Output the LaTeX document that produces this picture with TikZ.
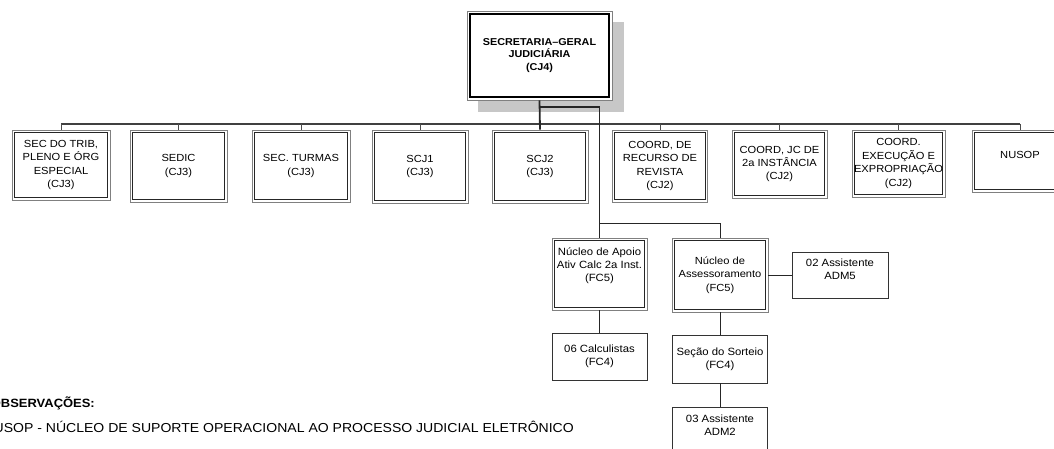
\documentclass[tikz,border=0pt]{standalone}
\usepackage{fontspec}
\setmainfont{Liberation Sans}[FakeStretch=1.08]
\tikzset{
  dbox/.style={draw=black!50, line width=0.7pt, fill=white, inner sep=0pt, align=center,
    font=\fontsize{10.3}{13.4}\selectfont,
    path picture={\draw[line width=1.3pt, black!85]
      ([shift={(2.3pt,2.3pt)}]path picture bounding box.south west) rectangle
      ([shift={(-2.3pt,-2.3pt)}]path picture bounding box.north east);}},
  sbox/.style={draw=black!80, line width=0.8pt, fill=white, inner sep=0pt, align=center,
    font=\fontsize{10.5}{13}\selectfont},
  txt/.style={align=center, inner sep=0pt, font=\fontsize{10.5}{13}\selectfont},
  bus/.style={draw=black!75, line width=1.6pt},
  drop/.style={draw=black!70, line width=0.9pt},
  conn/.style={draw=black!85, line width=1pt},
}
\begin{document}
\begin{tikzpicture}[x=1pt,y=-1pt]
\useasboundingbox (0,0) rectangle (1054,449);
% top box
\fill[black!22] (478,22) rectangle (624,112);
\node[dbox, minimum width=145pt, minimum height=89pt,
  path picture={\draw[line width=1.8pt, black]
      ([shift={(2.8pt,2.8pt)}]path picture bounding box.south west) rectangle
      ([shift={(-2.8pt,-2.8pt)}]path picture bounding box.north east);},
  font=\bfseries\fontsize{10}{12.6}\selectfont] (top) at (539.5,55.5)
  {SECRETARIA--GERAL\\JUDICIÁRIA\\(CJ4)};
% bus
\coordinate (busL) at (61,124);
\coordinate (busR) at (1020,124);
\coordinate (br) at (599.5,107);
\coordinate (fork) at (599.5,223);
\coordinate (forkR) at (720,223);
% row
\node[dbox, minimum width=98pt, minimum height=70pt] (b1) at (61,165) {SEC DO TRIB,\\PLENO E ÓRG\\ESPECIAL\\(CJ3)};
\node[dbox, minimum width=97pt, minimum height=72pt] (b2) at (178.5,166) {SEDIC\\(CJ3)};
\node[dbox, minimum width=98pt, minimum height=72pt] (b3) at (301,166) {SEC. TURMAS\\(CJ3)};
\node[dbox, minimum width=96pt, minimum height=73pt] (b4) at (420,166.5) {SCJ1\\(CJ3)};
\node[dbox, minimum width=96pt, minimum height=73pt] (b5) at (540,166.5) {SCJ2\\(CJ3)};
\node[dbox, minimum width=95pt, minimum height=72pt] (b6) at (660,166) {COORD, DE\\RECURSO DE\\REVISTA\\(CJ2)};
\node[dbox, minimum width=95pt, minimum height=68pt] (b7) at (779.5,164) {COORD, JC DE\\2a INSTÂNCIA\\(CJ2)};
\node[dbox, minimum width=93pt, minimum height=67pt] (b8) at (898.5,163.5) {COORD.\\EXECUÇÃO E\\EXPROPRIAÇÃO\\(CJ2)};
\node[dbox, minimum width=96pt, minimum height=62pt] (b9) at (1020,161) {};
\node[txt, font=\fontsize{10.3}{13.4}\selectfont] (t9) at (1020,155) {NUSOP};
% connectors to row
\draw[bus] (busL) -- (busR);
\foreach \b in {b1,b2,b3,b4,b6,b7,b8,b9} \draw[drop] (\b.north) -- (\b.north |- busL);
\draw[conn, line width=1.8pt] (top.south) -- (b5.north);
\draw[conn, line width=1.4pt] (top.south |- br) -- (br) -- (fork);
% second level
\node[dbox, minimum width=95pt, minimum height=72pt] (A) at (599.5,274) {};
\node[txt] (tA) at (599.5,266) {Núcleo de Apoio\\Ativ Calc 2a Inst.\\(FC5)};
\node[dbox, minimum width=96pt, minimum height=74pt] (B) at (720,275) {Núcleo de\\Assessoramento\\(FC5)};
\node[sbox, minimum width=96pt, minimum height=46pt] (C) at (840,275) {};
\node[txt] (tC) at (840,269) {02 Assistente\\ADM5};
\node[sbox, minimum width=95pt, minimum height=47pt] (D) at (599.5,356.5) {06 Calculistas\\(FC4)};
\node[sbox, minimum width=95pt, minimum height=48pt] (E) at (720,359) {Seção do Sorteio\\(FC4)};
\node[sbox, minimum width=95pt, minimum height=60pt] (F) at (720,437) {};
\node[txt] (tF) at (720,425.5) {03 Assistente\\ADM2};
\draw[conn] (fork) -- (A.north);
\draw[conn] (fork) -- (forkR) -- (B.north);
\draw[conn] (B.east) -- (C.west);
\draw[conn] (A.south) -- (D.north);
\draw[conn] (B.south) -- (E.north);
\draw[conn] (E.south) -- (F.north);
% observations
\node[anchor=base east, inner sep=0pt, font=\bfseries\fontsize{12}{14}\selectfont] (obs) at (95,407.5) {OBSERVAÇÕES:};
\node[anchor=base east, inner sep=0pt, font=\fontsize{13}{15}\selectfont] (nus) at (574,432) {NUSOP - NÚCLEO DE SUPORTE OPERACIONAL AO PROCESSO JUDICIAL ELETRÔNICO};
\end{tikzpicture}
\end{document}
